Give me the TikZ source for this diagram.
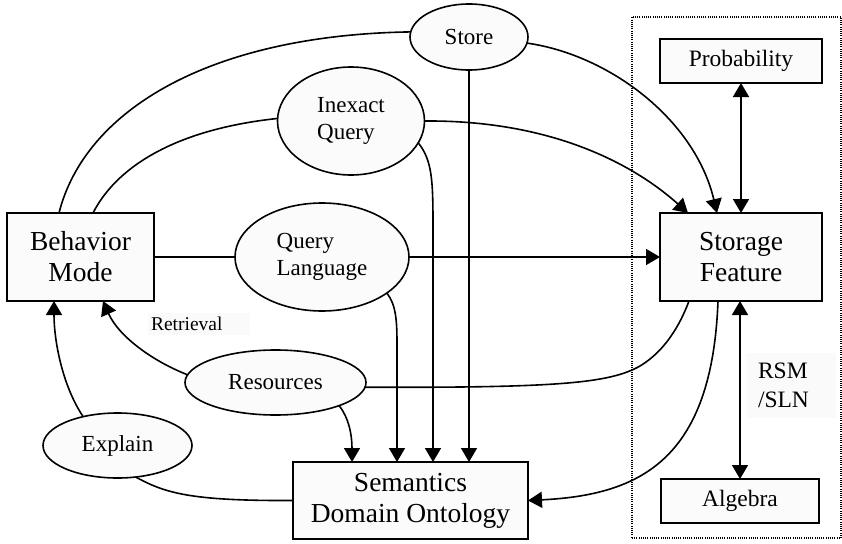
\documentclass[tikz,border=0pt]{standalone}
\usepackage{fontspec}
\setmainfont{Liberation Serif}
\usetikzlibrary{shapes.geometric,arrows.meta,calc}
\begin{document}
\begin{tikzpicture}[x=1pt,y=-1pt,
  every node/.style={inner sep=0pt, outer sep=0pt},
  lw/.style={line width=1.6pt},
  bigbox/.style={draw, lw, fill=gray!3, rectangle, font=\fontsize{27.5}{31}\selectfont, align=center},
  smallbox/.style={draw, lw, fill=gray!3, rectangle, font=\fontsize{23.5}{27}\selectfont, align=center},
  oval/.style={draw, lw, fill=gray!3, ellipse, font=\fontsize{23}{27}\selectfont},
  link/.style={lw},
  tip/.tip={Triangle[length=14pt,width=16pt]},
  arr/.style={lw, -tip},
  darr/.style={lw, tip-tip},
  tag/.style={fill=gray!4, align=left}
]
\useasboundingbox (0,0) rectangle (842,543);

% dotted group around the storage side
\node[draw, line width=1.1pt, dash pattern=on 1pt off 1.2pt, minimum width=209, minimum height=521] (grp) at (736.5,277.5) {};

% boxes
\node[bigbox, minimum width=147, minimum height=88] (bm) at (80.5,257) {Behavior\\Mode};
\node[bigbox, minimum width=162, minimum height=88] (sf) at (741,257) {Storage\\Feature};
\node[bigbox, minimum width=235, minimum height=77] (sdo) at (410.5,500.5) {Semantics\\Domain Ontology};
\node[smallbox, minimum width=162, minimum height=44] (pr) at (741,61) {Probability};
\node[smallbox, minimum width=158, minimum height=44] (al) at (740,501) {Algebra};

% ellipses
\node[oval, minimum width=118, minimum height=66] (st) at (469,37) {Store};
\node[oval, minimum width=147, minimum height=108, align=left] (iq) at (351,121) {Inexact\\Query};
\node[oval, minimum width=174, minimum height=108, align=left] (ql) at (322,257) {Query\\Language};
\node[oval, minimum width=181, minimum height=65] (rs) at (275.5,382.5) {Resources};
\node[oval, minimum width=149, minimum height=65] (ex) at (117.5,445.5) {Explain};

% labels
\node[tag, font=\fontsize{19.5}{22}\selectfont, text width=96pt, inner xsep=3pt, minimum height=22] (rl) at (199,324) {Retrieval};
\node[tag, font=\fontsize{23.5}{29}\selectfont, text width=67pt, inner xsep=11pt, minimum height=65] (rsm) at (791.5,385.5) {RSM\\/SLN};

% connectors
\draw[link] ([xshift=52]bm.north west) .. controls (85,110) and (210,35) .. (st.175);
\draw[link] ([xshift=86]bm.north west) .. controls (115,170) and (170,130) .. (iq.178);
\draw[link] (bm.east) -- (bm.east -| ql.west);
\draw[arr] (ql.east) -- (ql.east -| sf.west);
\draw[arr] (iq.east) .. controls (560,120) and (640,170) .. ([xshift=28]sf.north west);
\draw[arr] (st.-6) .. controls (610,55) and (695,120) .. ([xshift=57]sf.north west);
\draw[arr] (st.south) -- (st.south |- sdo.north);
\draw[arr] (iq.-18) .. controls (432,160) and (433,180) .. (433,225) -- ([xshift=140]sdo.north west);
\draw[arr] (ql.-29) .. controls (396,305) and (397,320) .. (397,345) -- ([xshift=104]sdo.north west);
\draw[arr] (rs.-20) .. controls (349,418) and (352,435) .. ([xshift=59]sdo.north west);
\draw[arr] (rs.175) .. controls (150,360) and (118,335) .. ([xshift=96]bm.south west);
\draw[arr] (ex.140) .. controls (62,385) and (54,340) .. ([xshift=47]bm.south west);
\draw[link] (ex.-60) .. controls (165,493) and (190,501) .. (sdo.west);
\draw[link] (rs.-3) .. controls (560,388) and (610,383) .. (640,366) .. controls (665,351) and (680,325) .. ([xshift=29]sf.south west);
\draw[arr] ([xshift=58]sf.south west) .. controls (712,460) and (640,495) .. (sdo.east);
\draw[darr] (pr.south) -- (pr.south |- sf.north);
\draw[darr] (al.north) -- (al.north |- sf.south);
\end{tikzpicture}
\end{document}
